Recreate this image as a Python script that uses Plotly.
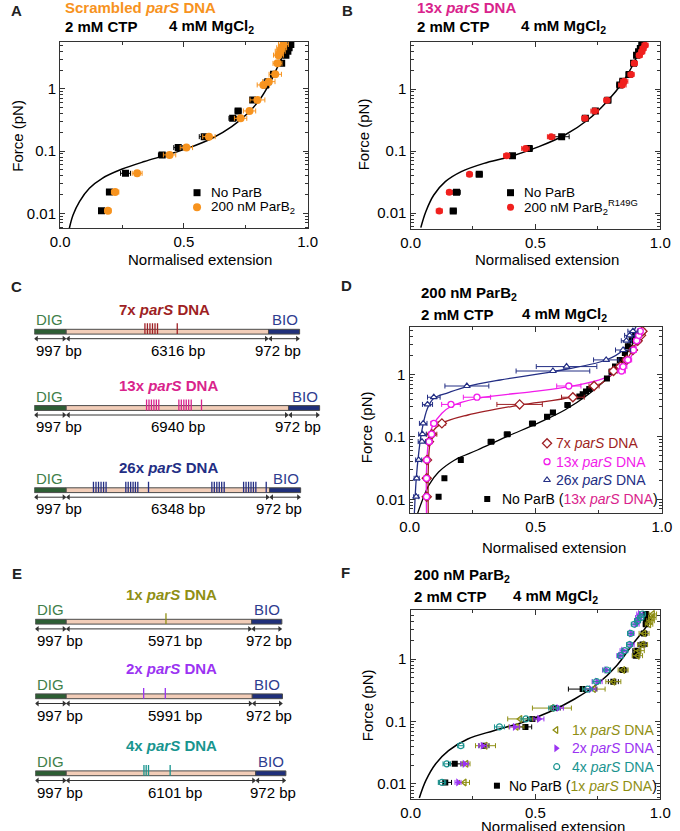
import plotly.graph_objects as go

# ================= DATA =================
# Panel A : scrambled parS DNA
A_force = [0.011, 0.022, 0.044, 0.087, 0.114, 0.171, 0.337, 0.443, 0.666, 1.16, 1.31, 1.72, 2.58, 3.5, 4.05, 4.6, 5.2]
A_noparb_ext = [0.167, 0.199, 0.264, 0.412, 0.477, 0.582, 0.697, 0.719, 0.778, 0.830, 0.839, 0.862, 0.895, 0.912, 0.920, 0.925, 0.932]
A_noparb_err = [0.010, 0.012, 0.020, 0.015, 0.018, 0.020, 0.015, 0.012, 0.012, 0.015, 0.015, 0.012, 0.010, 0.010, 0.010, 0.010, 0.010]
A_parb_ext = [0.193, 0.222, 0.311, 0.442, 0.510, 0.601, 0.729, 0.765, 0.797, 0.821, 0.843, 0.869, 0.878, 0.882, 0.889, 0.895, 0.902]
A_parb_err = [0.012, 0.015, 0.020, 0.025, 0.025, 0.025, 0.025, 0.025, 0.030, 0.025, 0.025, 0.025, 0.018, 0.020, 0.020, 0.020, 0.020]
A_fit_ext = [0.037, 0.052, 0.078, 0.118, 0.170, 0.248, 0.340, 0.431, 0.523, 0.614, 0.693, 0.758, 0.810, 0.850, 0.882, 0.908, 0.935]
A_fit_force = [0.00575, 0.0094, 0.01545, 0.0253, 0.0366, 0.051, 0.068, 0.087, 0.114, 0.161, 0.248, 0.406, 0.708, 1.31, 2.43, 3.98, 6.1]

# Panel B : 13x parS DNA, ParB R149G
B_force = [0.0108, 0.0216, 0.042, 0.084, 0.11, 0.17, 0.337, 0.44, 0.66, 1.16, 1.33, 1.72, 2.6, 3.5, 4.0, 4.5, 5.1]
B_noparb_ext = [0.171, 0.184, 0.275, 0.408, 0.475, 0.605, 0.700, 0.740, 0.790, 0.838, 0.850, 0.875, 0.893, 0.905, 0.913, 0.920, 0.926]
B_noparb_err = [0.012, 0.015, 0.012, 0.010, 0.012, 0.030, 0.012, 0.012, 0.012, 0.012, 0.012, 0.012, 0.010, 0.010, 0.010, 0.010, 0.010]
B_mut_ext = [0.115, 0.155, 0.236, 0.385, 0.460, 0.563, 0.698, 0.737, 0.786, 0.848, 0.855, 0.883, 0.896, 0.916, 0.926, 0.931, 0.939]
B_mut_err = [0.012, 0.010, 0.010, 0.012, 0.015, 0.015, 0.012, 0.015, 0.012, 0.015, 0.015, 0.012, 0.012, 0.012, 0.012, 0.012, 0.012]
B_fit_ext = [0.041, 0.061, 0.093, 0.139, 0.203, 0.294, 0.398, 0.514, 0.618, 0.709, 0.786, 0.851, 0.890, 0.916, 0.929]
B_fit_force = [0.0058, 0.0105, 0.0195, 0.032, 0.0465, 0.0632, 0.081, 0.1175, 0.181, 0.316, 0.625, 1.31, 2.44, 4.26, 5.79]

# Panel D : 7x / 13x / 26x parS DNA with 200 nM ParB2
D_force = [0.011, 0.0217, 0.0426, 0.0837, 0.11, 0.164, 0.33, 0.43, 0.65, 1.13, 1.33, 1.7, 2.45, 3.45, 4.2, 4.9]
D7_ext = [0.068, 0.068, 0.069, 0.077, 0.088, 0.128, 0.436, 0.647, 0.731, 0.808, 0.835, 0.860, 0.885, 0.904, 0.917, 0.923]
D7_err = [0.008, 0.010, 0.010, 0.012, 0.020, 0.015, 0.090, 0.045, 0.020, 0.015, 0.015, 0.015, 0.012, 0.012, 0.010, 0.010]
D13_ext = [0.067, 0.067, 0.068, 0.077, 0.087, 0.096, 0.164, 0.267, 0.631, 0.840, 0.846, 0.865, 0.887, 0.900, 0.908, 0.914]
D13_err = [0.008, 0.010, 0.010, 0.012, 0.012, 0.012, 0.037, 0.054, 0.048, 0.015, 0.015, 0.015, 0.012, 0.012, 0.010, 0.010]
D26_ext = [0.026, 0.028, 0.036, 0.049, 0.051, 0.054, 0.071, 0.096, 0.227, 0.568, 0.622, 0.779, 0.846, 0.859, 0.872, 0.885]
D26_err = [0.010, 0.010, 0.012, 0.015, 0.015, 0.015, 0.020, 0.025, 0.087, 0.146, 0.120, 0.050, 0.030, 0.020, 0.020, 0.020]
D_ctrl_force = [0.011, 0.0217, 0.0426, 0.0837, 0.11, 0.164, 0.21, 0.246, 0.323, 0.44, 0.48, 0.53, 0.58, 0.86, 1.1, 1.33, 1.7, 2.2, 2.8, 3.5, 4.3]
D_ctrl_ext = [0.115, 0.138, 0.203, 0.323, 0.387, 0.487, 0.545, 0.568, 0.626, 0.673, 0.686, 0.699, 0.712, 0.782, 0.800, 0.814, 0.833, 0.853, 0.865, 0.880, 0.895]
D_ctrl_err = [0.004, 0.004, 0.006, 0.012, 0.012, 0.012, 0.010, 0.010, 0.010, 0.008, 0.008, 0.008, 0.008, 0.008, 0.008, 0.008, 0.008, 0.008, 0.008, 0.008, 0.008]
D_fit_ext = [0.032, 0.051, 0.077, 0.115, 0.179, 0.269, 0.385, 0.513, 0.615, 0.705, 0.782, 0.846, 0.885, 0.910]
D_fit_force = [0.00597, 0.00977, 0.017, 0.02735, 0.04256, 0.0615, 0.1007, 0.1687, 0.2685, 0.4667, 0.863, 1.782, 3.133, 5.445]
D7_line_ext = [0.074, 0.074, 0.079, 0.092, 0.128, 0.231, 0.436, 0.647, 0.744, 0.808, 0.859, 0.897, 0.923]
D7_line_force = [0.00597, 0.02944, 0.0697, 0.121, 0.1644, 0.2234, 0.3228, 0.4395, 0.650, 1.0375, 1.694, 3.133, 5.117]
D13_line_ext = [0.067, 0.067, 0.074, 0.090, 0.128, 0.167, 0.269, 0.487, 0.631, 0.769, 0.846, 0.885, 0.910, 0.921]
D13_line_force = [0.00597, 0.02944, 0.0787, 0.1455, 0.2377, 0.3112, 0.413, 0.5284, 0.6353, 0.863, 1.327, 2.168, 4.009, 5.445]
D26_line_ext = [0.019, 0.026, 0.036, 0.049, 0.071, 0.096, 0.154, 0.227, 0.359, 0.568, 0.779, 0.846, 0.878, 0.897]
D26_line_force = [0.00597, 0.02037, 0.05445, 0.1285, 0.2858, 0.413, 0.5093, 0.6353, 0.8110, 1.104, 1.694, 2.449, 4.009, 5.794]

# Panel F : 1x / 2x / 4x parS DNA with 200 nM ParB2
F_force = [0.0106, 0.021, 0.041, 0.082, 0.11, 0.164, 0.33, 0.434, 0.667, 1.13, 1.36, 1.7, 2.57, 3.6, 4.1, 4.6, 5.25]
F_ctrl_ext = [0.139, 0.177, 0.294, 0.460, 0.488, 0.579, 0.689, 0.812, 0.851, 0.903, 0.905, 0.929, 0.935, 0.942, 0.944, 0.946, 0.942]
F_ctrl_err = [0.025, 0.025, 0.020, 0.025, 0.020, 0.020, 0.057, 0.020, 0.015, 0.015, 0.015, 0.015, 0.012, 0.010, 0.010, 0.010, 0.010]
F1_ext = [0.216, 0.223, 0.300, 0.424, 0.439, 0.566, 0.734, 0.812, 0.851, 0.909, 0.916, 0.929, 0.935, 0.955, 0.961, 0.968, 0.970]
F1_err = [0.020, 0.015, 0.040, 0.030, 0.050, 0.078, 0.045, 0.030, 0.020, 0.020, 0.020, 0.020, 0.020, 0.015, 0.015, 0.015, 0.015]
F2_ext = [0.190, 0.216, 0.288, 0.417, 0.514, 0.592, 0.722, 0.747, 0.784, 0.838, 0.851, 0.883, 0.883, 0.903, 0.909, 0.913, 0.918]
F2_err = [0.012, 0.015, 0.015, 0.020, 0.020, 0.020, 0.020, 0.020, 0.015, 0.012, 0.012, 0.012, 0.012, 0.012, 0.012, 0.012, 0.012]
F4_ext = [0.126, 0.145, 0.201, 0.356, 0.462, 0.573, 0.709, 0.745, 0.786, 0.841, 0.858, 0.877, 0.881, 0.896, 0.909, 0.922, 0.929]
F4_err = [0.015, 0.015, 0.012, 0.020, 0.020, 0.020, 0.020, 0.015, 0.015, 0.012, 0.012, 0.012, 0.012, 0.012, 0.012, 0.012, 0.012]
F_fit_ext = [0.035, 0.061, 0.100, 0.152, 0.229, 0.333, 0.449, 0.553, 0.657, 0.748, 0.825, 0.890, 0.942, 0.974]
F_fit_force = [0.00597, 0.0113, 0.0209, 0.0341, 0.0525, 0.0713, 0.0970, 0.1403, 0.2291, 0.3981, 0.7816, 1.738, 3.214, 5.248]

# Axis ticks
X_TICKS = [0, 0.5, 1.0]
X_TICK_TEXT = ["0.0", "0.5", "1.0"]
Y_TICKS = [0.01, 0.1, 1]
Y_TICK_TEXT = ["0.01", "0.1", "1"]

# DNA construct schematics (bp)
DIG_BP = 997
BIO_BP = 972
C_names = ["7x", "13x", "26x"]
C_mid_bp = [6316, 6940, 6348]
C_parS_bp = [
    [3455, 3533, 3612, 3691, 3770, 3848, 4464],
    [3506, 3582, 3658, 3736, 3812, 3888, 4515, 4591, 4670, 4745, 4821, 4900, 5221],
    [1848, 1927, 2006, 2085, 2164, 2242, 2858, 2933, 3009, 3085, 3158, 3233, 3567,
     5545, 5621, 5700, 5776, 5852, 5930, 6536, 6612, 6691, 6767, 6842, 6918, 7242],
]
E_names = ["1x", "2x", "4x"]
E_mid_bp = [5971, 5991, 6101]
E_parS_bp = [[4209], [3491, 4188], [3500, 3572, 3647, 4344]]

# ================= STYLE / LAYOUT =================
W, H = 680, 831
FONT = "Arial, Liberation Sans, sans-serif"
AX = "#333333"
C_ORANGE = "#F7931E"
C_RED = "#F0201E"
C_MAG_T = "#D9238C"
C_DRED = "#9E1F24"
C_MAG = "#F21BEA"
C_NAVY = "#232E84"
C_OLIVE = "#8F8F14"
C_PURPLE = "#9B33F2"
C_TEAL = "#1A9490"
C_DIG = "#3F7F4A"
C_BIO = "#2E3D8F"
DNA_COL = {"7x": C_DRED, "13x": C_MAG_T, "26x": C_NAVY, "1x": C_OLIVE, "2x": C_PURPLE, "4x": "#18958F"}


def px(p):
    return p / W


def py(p):
    return 1 - p / H


fig = go.Figure()


def pts(ax, x, y, err, symbol, color, size, fill=None, lw=1.2):
    fig.add_trace(go.Scatter(
        x=x, y=y, mode="markers", xaxis="x" + ax, yaxis="y" + ax,
        marker=dict(symbol=symbol, size=size, color=fill or color, line=dict(color=color, width=lw)),
        error_x=dict(type="data", array=err, color=color, thickness=1, width=2.5),
        showlegend=False, hoverinfo="skip"))


def curve(ax, x, y, color, width=1.5):
    fig.add_trace(go.Scatter(
        x=x, y=y, mode="lines", xaxis="x" + ax, yaxis="y" + ax,
        line=dict(color=color, width=width, shape="spline", smoothing=1.0),
        showlegend=False, hoverinfo="skip"))


# Panel A
curve("", A_fit_ext, A_fit_force, "black")
pts("", A_noparb_ext, A_force, A_noparb_err, "square", "black", 7, lw=0)
pts("", A_parb_ext, A_force, A_parb_err, "circle", C_ORANGE, 8, lw=0)
# Panel B
curve("2", B_fit_ext, B_fit_force, "black")
pts("2", B_noparb_ext, B_force, B_noparb_err, "square", "black", 7, lw=0)
pts("2", B_mut_ext, B_force, B_mut_err, "circle", C_RED, 7, lw=0)
# Panel D
curve("3", D_fit_ext, D_fit_force, "black", 1.3)
curve("3", D7_line_ext, D7_line_force, C_DRED, 1.3)
curve("3", D13_line_ext, D13_line_force, C_MAG, 1.3)
curve("3", D26_line_ext, D26_line_force, C_NAVY, 1.3)
pts("3", D_ctrl_ext, D_ctrl_force, D_ctrl_err, "square", "black", 6, lw=0)
pts("3", D7_ext, D_force, D7_err, "diamond", C_DRED, 7, fill="white", lw=1.3)
pts("3", D13_ext, D_force, D13_err, "circle", C_MAG, 6, fill="white", lw=1.3)
pts("3", D26_ext, D_force, D26_err, "triangle-up", C_NAVY, 6, fill="white", lw=1.2)
# Panel F
curve("4", F_fit_ext, F_fit_force, "black")
pts("4", F_ctrl_ext, F_force, F_ctrl_err, "square", "black", 6, lw=0)
pts("4", F1_ext, F_force, F1_err, "triangle-left-open", C_OLIVE, 6, lw=1.3)
pts("4", F2_ext, F_force, F2_err, "triangle-right", C_PURPLE, 7, lw=0)
pts("4", F4_ext, F_force, F4_err, "circle-open", C_TEAL, 6, lw=1.2)

# ---------------- axes ----------------
Y_MINOR = [0.006, 0.007, 0.008, 0.009, 0.02, 0.03, 0.04, 0.05, 0.06, 0.07, 0.08, 0.09,
           0.2, 0.3, 0.4, 0.5, 0.6, 0.7, 0.8, 0.9, 2, 3, 4, 5, 6]
boxes = {
    "": (51.7, 306.7, 41.7, 228.3, [-2.241, 0.760]),
    "2": (412.7, 670.0, 41.7, 229.0, [-2.258, 0.763]),
    "3": (411.7, 671.7, 326.7, 513.3, [-2.224, 0.762]),
    "4": (412.7, 670.0, 610.0, 799.3, [-2.245, 0.784]),
}
layout_axes = {}
for k, (l, r, t, b, yr) in boxes.items():
    common = dict(showline=True, linecolor=AX, linewidth=1.3, mirror="ticks", ticks="inside",
                  ticklen=5, tickwidth=1.1, tickcolor=AX, showgrid=False, zeroline=False,
                  tickfont=dict(family=FONT, size=15, color="black"), fixedrange=True)
    layout_axes["xaxis" + k] = dict(common, domain=[px(l), px(r)], range=[0, 1], anchor="y" + k,
                                    tickmode="array", tickvals=X_TICKS, ticktext=X_TICK_TEXT,
                                    minor=dict(tickvals=[0.25, 0.75], ticks="inside", ticklen=3,
                                               tickcolor=AX, showgrid=False))
    layout_axes["yaxis" + k] = dict(common, domain=[py(b), py(t)], type="log", range=yr,
                                    anchor="x" + k, tickmode="array", tickvals=Y_TICKS,
                                    ticktext=Y_TICK_TEXT,
                                    minor=dict(tickvals=Y_MINOR, ticks="inside", ticklen=3,
                                               tickcolor=AX, showgrid=False))

hidden = dict(visible=False, fixedrange=True, showgrid=False, zeroline=False)
# schematic axes: x in bp, y in pixel rows
layout_axes["xaxis5"] = dict(hidden, domain=[px(25), px(25 + 9000 * 0.033)], range=[0, 9000], anchor="y5")
layout_axes["yaxis5"] = dict(hidden, domain=[py(520), py(280)], range=[520, 280], anchor="x5")
layout_axes["xaxis6"] = dict(hidden, domain=[px(26), px(26 + 9000 * 0.032)], range=[0, 9000], anchor="y6")
layout_axes["yaxis6"] = dict(hidden, domain=[py(805), py(560)], range=[805, 560], anchor="x6")
# overlay in pixel units for legend symbols
layout_axes["xaxis7"] = dict(hidden, domain=[0, 1], range=[0, W], anchor="y7")
layout_axes["yaxis7"] = dict(hidden, domain=[0, 1], range=[H, 0], anchor="x7")

annotations = []
shapes = []


def text(x, y, s, size=14, color="black", anchor="left", bold=False, angle=0):
    if bold:
        s = "<b>" + s + "</b>"
    annotations.append(dict(x=px(x), y=py(y), xref="paper", yref="paper", text=s, showarrow=False,
                            xanchor=anchor, yanchor="middle", textangle=angle,
                            font=dict(family=FONT, size=size, color=color)))


# panel letters
for letter, (lx, ly) in {"A": (7, 10), "B": (348, 10), "C": (7, 287), "D": (347, 285),
                         "E": (7, 573), "F": (346, 572)}.items():
    text(lx, ly, letter, 15, "#222", "center", True)

# headers
text(55, 8, "Scrambled <i>parS</i> DNA", 15, C_ORANGE, bold=True)
text(55, 26, "2 mM CTP", 15, bold=True)
text(162, 26, "4 mM MgCl<sub>2</sub>", 15, bold=True)
text(417, 8, "13x <i>parS</i> DNA", 15, C_MAG_T, bold=True)
text(417, 26, "2 mM CTP", 15, bold=True)
text(524, 26, "4 mM MgCl<sub>2</sub>", 15, bold=True)
text(421, 293, "200 nM ParB<sub>2</sub>", 15, bold=True)
text(421, 314, "2 mM CTP", 15, bold=True)
text(525, 314, "4 mM MgCl<sub>2</sub>", 15, bold=True)
text(414, 575, "200 nM ParB<sub>2</sub>", 15, bold=True)
text(414, 596, "2 mM CTP", 15, bold=True)
text(516, 596, "4 mM MgCl<sub>2</sub>", 15, bold=True)

# axis titles
for (xl_x, xl_y, yl_x, yl_y) in [(196, 260, 8, 136), (553, 260, 364, 134),
                                 (560, 547, 367, 427), (559, 826, 368, 705)]:
    text(xl_x, xl_y, "Normalised extension", 15, anchor="center")
    text(yl_x, yl_y, "Force (pN)", 15, anchor="center", angle=-90)

# legends (symbol positions in pixels on overlay axis)
legend_items = [
    # (x, y, symbol, color, fill, size, lw, text_x, label, font size)
    (192.7, 192.7, "square", "black", "black", 7, 0, 205, "No ParB", 13.5),
    (192.7, 207.3, "circle", C_ORANGE, C_ORANGE, 8, 0, 205, "200 nM ParB<sub>2</sub>", 13.5),
    (515.7, 192.7, "square", "black", "black", 7, 0, 528, "No ParB", 13.5),
    (515.7, 207.3, "circle", C_RED, C_RED, 7, 0, 528, "200 nM ParB<sub>2</sub><sup>R149G</sup>", 13.5),
    (553.3, 443.3, "diamond", C_DRED, "white", 7, 1.3, 560,
     "<span style='color:%s'>7x <i>parS</i> DNA</span>" % C_DRED, 14),
    (553.3, 461.7, "circle", C_MAG, "white", 6, 1.3, 560,
     "<span style='color:%s'>13x <i>parS</i> DNA</span>" % C_MAG, 14),
    (553.3, 480.0, "triangle-up", C_NAVY, "white", 6, 1.2, 560,
     "<span style='color:%s'>26x <i>parS</i> DNA</span>" % C_NAVY, 14),
    (491.7, 499.0, "square", "black", "black", 6, 0, 505,
     "No ParB (<span style='color:%s'>13x <i>parS</i> DNA</span>)" % C_MAG_T, 14),
    (562.7, 730.0, "triangle-left-open", C_OLIVE, C_OLIVE, 6, 1.3, 577,
     "<span style='color:%s'>1x <i>parS</i> DNA</span>" % C_OLIVE, 14),
    (562.7, 748.3, "triangle-right", C_PURPLE, C_PURPLE, 7, 0, 577,
     "<span style='color:%s'>2x <i>parS</i> DNA</span>" % C_PURPLE, 14),
    (563.3, 766.7, "circle-open", C_TEAL, C_TEAL, 6, 1.2, 577,
     "<span style='color:%s'>4x <i>parS</i> DNA</span>" % C_TEAL, 14),
    (501.7, 785.7, "square", "black", "black", 6, 0, 512,
     "No ParB (<span style='color:%s'>1x <i>parS</i> DNA</span>)" % C_OLIVE, 14),
]
for (lx, ly, sym, col, fill, size, lw, tx, label, fs) in legend_items:
    fig.add_trace(go.Scatter(x=[lx], y=[ly], mode="markers", xaxis="x7", yaxis="y7",
                             marker=dict(symbol=sym, size=size, color=fill, line=dict(color=col, width=lw)),
                             showlegend=False, hoverinfo="skip"))
    text(tx, ly, label, fs)


# ---------------- DNA schematics ----------------
def construct(ax, bar_y, mid_bp, sites, name, title_x_bp, offs, bio_lab_off):
    xr, yr = "x" + ax, "y" + ax
    color = DNA_COL[name]
    total = DIG_BP + mid_bp + BIO_BP
    half = 2.4
    segs = [(0, DIG_BP, "#2D5E34"), (DIG_BP, DIG_BP + mid_bp, "#F2CDB8"), (DIG_BP + mid_bp, total, "#1F2F7A")]
    for (a, b, fc) in segs:
        shapes.append(dict(type="rect", xref=xr, yref=yr, x0=a, x1=b, y0=bar_y - half, y1=bar_y + half,
                           fillcolor=fc, line=dict(color="#4a4a4a", width=1)))
    for s in sites:
        shapes.append(dict(type="line", xref=xr, yref=yr, x0=s, x1=s, y0=bar_y - 8.4, y1=bar_y + half,
                           line=dict(color=color, width=1.3)))
    ay = bar_y + offs["arrow"]
    for (a, b, _) in segs:
        fig.add_trace(go.Scatter(
            x=[a + 70, b - 70], y=[ay, ay], mode="lines+markers", xaxis=xr, yaxis=yr,
            line=dict(color="#333", width=1),
            marker=dict(symbol=["triangle-left", "triangle-right"], size=5, color="#333", line=dict(width=0)),
            showlegend=False, hoverinfo="skip"))

    def t(x, y, s, anchor, col="black", size=14, bold=False):
        if bold:
            s = "<b>" + s + "</b>"
        annotations.append(dict(xref=xr, yref=yr, x=x, y=y, text=s, showarrow=False, xanchor=anchor,
                                yanchor="middle", font=dict(family=FONT, size=size, color=col)))

    t(title_x_bp, bar_y + offs["title"], "%s <i>parS</i> DNA" % name, "left", color, 15, True)
    t(0, bar_y + offs["tag"], "DIG", "left", C_DIG, 15)
    t(total, bar_y + offs["tag"], "BIO", "right", C_BIO, 15)
    t(0, bar_y + offs["lab"], "%d bp" % DIG_BP, "left", size=15)
    t(4500, bar_y + offs["lab"], "%d bp" % mid_bp, "center", size=15)
    t(DIG_BP + mid_bp + bio_lab_off, bar_y + offs["lab"], "%d bp" % BIO_BP, "center", size=15)


C_bar_y = [331.7, 408.0, 490.2]
E_bar_y = [621.7, 696.3, 773.3]
C_offs = dict(title=-22.5, tag=-12.0, arrow=7.0, lab=18.5)
E_offs = dict(title=-27.5, tag=-11.9, arrow=7.2, lab=19.2)
for i in range(3):
    construct("5", C_bar_y[i], C_mid_bp[i], C_parS_bp[i], C_names[i], 2576, C_offs, 300)
    construct("6", E_bar_y[i], E_mid_bp[i], E_parS_bp[i], E_names[i], 2844, E_offs, 545)

fig.update_layout(
    width=W, height=H, margin=dict(l=0, r=0, t=0, b=0),
    paper_bgcolor="white", plot_bgcolor="rgba(0,0,0,0)",
    showlegend=False, annotations=annotations, shapes=shapes,
    font=dict(family=FONT, size=14, color="black"),
    **layout_axes,
)

fig.write_html("out.html", config={"displayModeBar": False},
               post_script="document.body.style.margin='0px';")
